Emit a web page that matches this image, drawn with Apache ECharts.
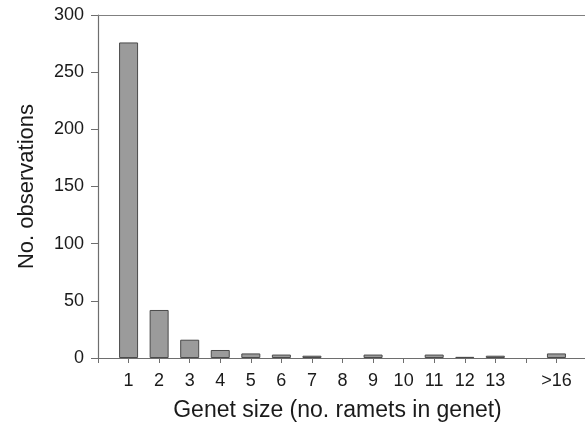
<!DOCTYPE html>
<html>
<head>
<meta charset="utf-8">
<script src="https://cdn.jsdelivr.net/npm/echarts@6/dist/echarts.min.js"></script>
<style>
html,body{margin:0;padding:0;background:#fff;}
#chart{width:585px;height:425px;}
</style>
</head>
<body>
<div id="chart"></div>
<script>
// Tick labels along the x axis (position index = tick value)
const xTickLabels = ['', '1', '2', '3', '4', '5', '6', '7', '8', '9', '10', '11', '12', '13', '', '>16', ''];
// Bar categories and their counts
const barLabels = ['1', '2', '3', '4', '5', '6', '7', '8', '9', '10', '11', '12', '13', '>16'];
const counts = [276, 42, 16, 7, 4, 3, 2, 0, 3, 0, 3, 1, 2, 4];
const yTicks = [0, 50, 100, 150, 200, 250, 300];

const barData = barLabels.map((lab, i) => [xTickLabels.indexOf(lab), counts[i] === 0 ? null : counts[i]]);

const FONT = "'Liberation Sans', Arial, Helvetica, sans-serif";
const AXIS_COLOR = '#6e6e6e';
const TEXT_COLOR = '#1a1a1a';

const chart = echarts.init(document.getElementById('chart'), null, {renderer: 'canvas'});
chart.setOption({
  animation: false,
  backgroundColor: '#fff',
  grid: {left: 98, right: -2, top: 15, bottom: 67, containLabel: false, outerBoundsMode: 'none'},
  xAxis: [{
    type: 'value',
    min: 0,
    max: xTickLabels.length - 1,
    interval: 1,
    name: 'Genet size (no. ramets in genet)',
    nameLocation: 'middle',
    nameGap: 41,
    nameTextStyle: {fontFamily: FONT, fontSize: 23, color: TEXT_COLOR, padding: [0, 10, 0, 0]},
    axisLine: {show: true, lineStyle: {color: AXIS_COLOR, width: 1.2}},
    axisTick: {show: true, length: 5, lineStyle: {color: AXIS_COLOR}},
    axisLabel: {
      fontFamily: FONT, fontSize: 18, color: TEXT_COLOR, margin: 14,
      formatter: v => (Number.isInteger(v) && xTickLabels[v] !== undefined) ? xTickLabels[v] : ''
    },
    splitLine: {show: false}
  }, {
    type: 'value',
    position: 'top',
    min: 0,
    max: xTickLabels.length - 1,
    axisLine: {show: true, lineStyle: {color: '#808080', width: 1.2}},
    axisTick: {show: false},
    axisLabel: {show: false},
    splitLine: {show: false}
  }],
  yAxis: {
    type: 'value',
    min: yTicks[0],
    max: yTicks[yTicks.length - 1],
    interval: 50,
    name: 'No. observations',
    nameLocation: 'middle',
    nameGap: 60,
    nameTextStyle: {fontFamily: FONT, fontSize: 22, color: TEXT_COLOR},
    axisLine: {show: true, lineStyle: {color: AXIS_COLOR, width: 1.2}},
    axisTick: {show: true, length: 7, lineStyle: {color: AXIS_COLOR}},
    axisLabel: {fontFamily: FONT, fontSize: 18, color: TEXT_COLOR, margin: 14},
    splitLine: {show: false}
  },
  series: [{
    type: 'bar',
    xAxisIndex: 0,
    data: barData,
    barWidth: 19,
    itemStyle: {color: '#9b9b9b', borderColor: '#4a4a4a', borderWidth: 1}
  }]
});
</script>
</body>
</html>
